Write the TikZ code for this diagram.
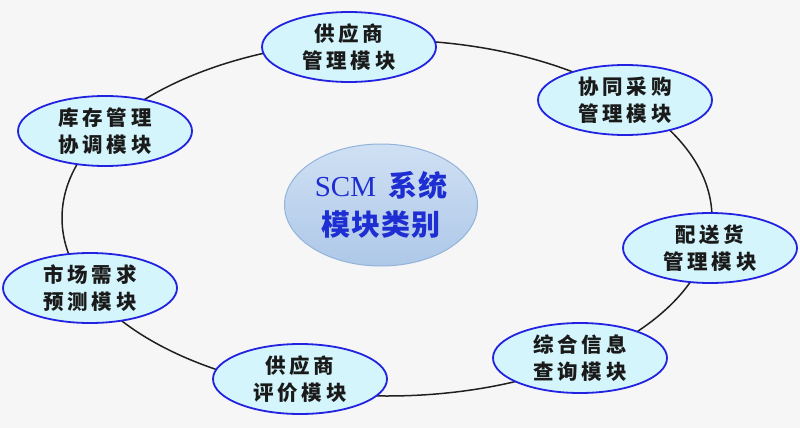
\documentclass[tikz,border=0pt]{standalone}
\usepackage{fontspec}
\usetikzlibrary{shapes.geometric}
\newfontfamily\cjk[LetterSpace=18]{Noto Sans CJK SC}
\newfontfamily\cjkc[LetterSpace=4]{Noto Sans CJK SC}
\newfontfamily\latserif{Liberation Serif}
\definecolor{bgc}{HTML}{F6F6F6}
\definecolor{nodefill}{HTML}{D3F5FB}
\definecolor{nodeline}{HTML}{2222E0}
\definecolor{ringc}{HTML}{202020}
\definecolor{ctrtop}{HTML}{CFE0F3}
\definecolor{ctrbot}{HTML}{AEC8E8}
\definecolor{ctrline}{HTML}{93B3DA}
\definecolor{ctrtext}{HTML}{1E2ED2}
\definecolor{txt}{HTML}{1A1A1A}
\tikzset{
  modbox/.style={ellipse, draw=nodeline, line width=1.8pt, fill=nodefill,
    minimum width=174pt, minimum height=70pt, inner sep=0pt,
    align=center, text=txt, font=\cjk\bfseries\fontsize{20.5}{27}\selectfont},
  centerbox/.style={ellipse, draw=ctrline, line width=1pt, top color=ctrtop, bottom color=ctrbot,
    minimum width=193pt, minimum height=122pt, inner sep=0pt,
    align=center, text=ctrtext, font=\cjkc\fontsize{29}{39}\selectfont},
  ring/.style={draw=ringc, line width=1.5pt}
}
\begin{document}
\begin{tikzpicture}[x=1pt,y=-1pt]
\fill[bgc] (0,0) rectangle (800,428);
\useasboundingbox (0,0) rectangle (800,428);
\draw[ring] (387,218) ellipse [x radius=325pt, y radius=178pt];
\node[centerbox] (scm) at (381,205) {{\latserif SCM}\hspace{12pt}{\bfseries 系统}\\{\bfseries 模块类别}};
\node[modbox] (sup) at (349,47) {供应商\\管理模块};
\node[modbox] (buy) at (625,100) {协同采购\\管理模块};
\node[modbox] (inv) at (105,131) {库存管理\\协调模块};
\node[modbox] (dlv) at (710,248) {配送货\\管理模块};
\node[modbox] (mkt) at (90,288) {市场需求\\预测模块};
\node[modbox] (qry) at (580,358) {综合信息\\查询模块};
\node[modbox] (eva) at (300,379) {供应商\\评价模块};
\end{tikzpicture}
\end{document}
